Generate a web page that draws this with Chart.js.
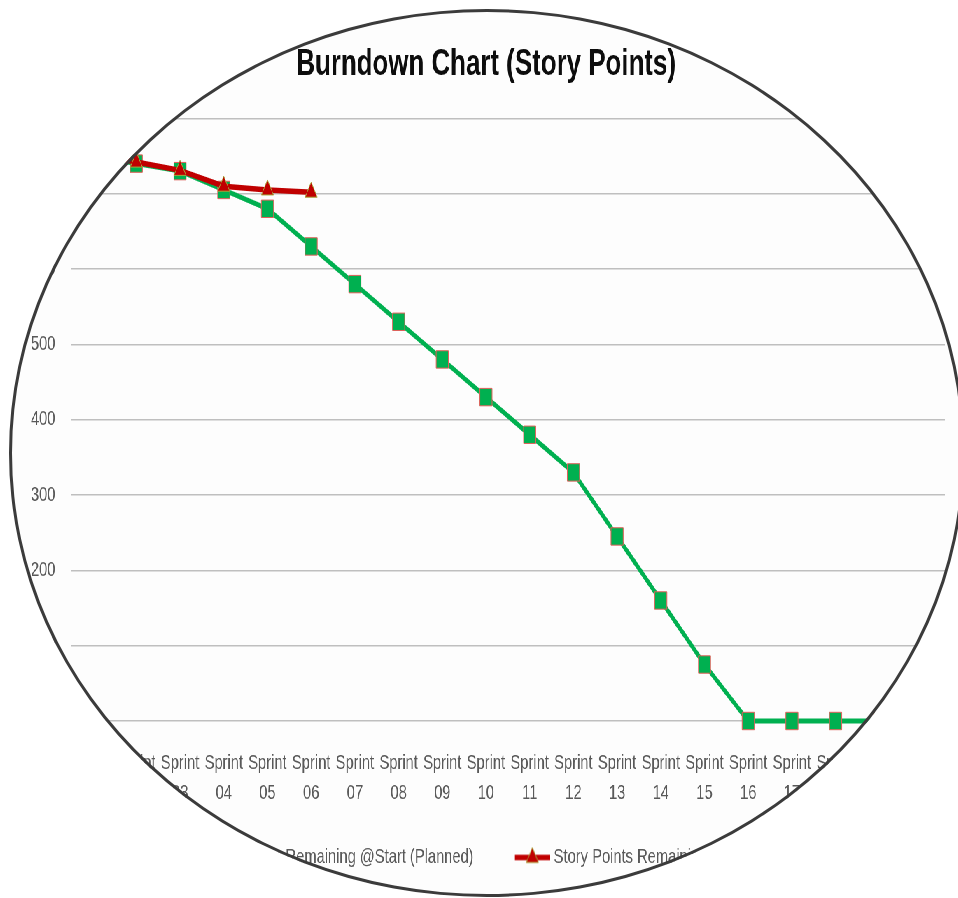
<!DOCTYPE html>
<html>
<head>
<meta charset="utf-8">
<title>Burndown Chart</title>
<script src="https://cdn.jsdelivr.net/npm/chart.js@4.4.1/dist/chart.umd.min.js"></script>
<style>
  html, body { margin: 0; padding: 0; background: #fff; overflow: hidden; }
  #frame { position: relative; width: 958px; height: 898px; overflow: hidden; background: #fff; }
  /* the chart is drawn wide and squeezed, like the stretched picture */
  #wrap { position: absolute; left: 0; top: 0; width: 1389px; height: 898px; transform: scaleX(0.7); transform-origin: 0 0; background: #fdfdfd; }
  #ring { position: absolute; left: 9px; top: 9px; width: 956px; height: 888px; box-sizing: border-box;
          border: 3px solid #3b3b3b; border-radius: 50%; box-shadow: 0 0 0 1600px #fff; pointer-events: none; }
</style>
</head>
<body>
<div id="frame">
  <div id="wrap"><canvas id="myChart"></canvas></div>
  <div id="ring"></div>
</div>
<script>
const sprints = ['Sprint 01', 'Sprint 02', 'Sprint 03', 'Sprint 04', 'Sprint 05', 'Sprint 06', 'Sprint 07',
                 'Sprint 08', 'Sprint 09', 'Sprint 10', 'Sprint 11', 'Sprint 12', 'Sprint 13', 'Sprint 14',
                 'Sprint 15', 'Sprint 16', 'Sprint 17', 'Sprint 18', 'Sprint 19', 'Sprint 20'];
const plannedRemaining = [750, 740, 730, 705, 680, 630, 580, 530, 480, 430, 380, 330, 245, 160, 75, 0, 0, 0, 0, 0];
const actualRemaining = [752, 742, 731, 710, 705, 702, null, null, null, null, null, null, null, null, null, null, null, null, null, null];
const yMin = 0;
const yMax = 800;
const yStep = 100;

const fontFam = "'Liberation Sans', Arial, sans-serif";
const green = '#00b050';
const red = '#c00000';

// legend key: a short line with the marker on it
function legendKey(lineColor, lineW, marker, fill, stroke) {
    const c = document.createElement('canvas');
    c.width = 84;
    c.height = 26;
    const g = c.getContext('2d');
    g.strokeStyle = lineColor;
    g.lineWidth = lineW;
    g.beginPath();
    g.moveTo(34, 13);
    g.lineTo(84, 13);
    g.stroke();
    g.fillStyle = fill;
    g.strokeStyle = stroke;
    g.lineWidth = 1;
    g.beginPath();
    if (marker == 'rect') {
        g.rect(59 - 8.7, 13 - 8.7, 17.4, 17.4);
    } else {
        g.moveTo(59, 13 - 10);
        g.lineTo(59 + 8.7, 13 + 5);
        g.lineTo(59 - 8.7, 13 + 5);
        g.closePath();
    }
    g.fill();
    g.stroke();
    return c;
}

const keys = [
    legendKey(green, 5, 'rect', green, '#e0605a'),
    legendKey(red, 5.5, 'triangle', red, '#a8a83c')
];

// legend sits a little left of the centre in the original
const legendShift = {
    id: 'legendShift',
    afterLayout: function(chart) {
        chart.legend.left -= 48;
        chart.legend.right -= 48;
    }
};

let ctx = document.getElementById('myChart').getContext('2d');

let myChart = new Chart(ctx, {
    type: 'line',
    data: {
        labels: sprints,
        datasets: [{
            label: 'Story Points Remaining @Start (Planned)',
            data: plannedRemaining,
            borderColor: green,
            backgroundColor: green,
            borderWidth: 5,
            pointStyle: 'rect',
            pointRadius: 12.3,
            pointBackgroundColor: green,
            pointBorderColor: '#e0605a',
            pointBorderWidth: 1,
            tension: 0,
            clip: false,
            order: 1
        }, {
            label: 'Story Points Remaining (Actual)',
            data: actualRemaining,
            borderColor: red,
            backgroundColor: red,
            borderWidth: 5.5,
            pointStyle: 'triangle',
            pointRadius: 10,
            pointBackgroundColor: red,
            pointBorderColor: '#a8a83c',
            pointBorderWidth: 1,
            tension: 0,
            spanGaps: false,
            clip: false,
            order: 0
        }]
    },
    options: {
        responsive: true,
        maintainAspectRatio: false,
        animation: false,
        layout: { padding: { left: 39, right: 39, top: 0, bottom: 20 } },
        plugins: {
            title: {
                display: true,
                text: 'Burndown Chart (Story Points)',
                color: '#0d0d0d',
                font: { family: fontFam, size: 37, weight: 'bold' },
                padding: { top: 43, bottom: 31 }
            },
            legend: {
                display: true,
                position: 'bottom',
                labels: {
                    usePointStyle: true,
                    pointStyleWidth: 74,
                    boxHeight: 21,
                    padding: 30,
                    color: '#595959',
                    font: { family: fontFam, size: 21 },
                    generateLabels: function(chart) {
                        return chart.data.datasets.map(function(ds, i) {
                            return {
                                text: ds.label,
                                pointStyle: keys[i],
                                fillStyle: ds.borderColor,
                                strokeStyle: ds.borderColor,
                                lineWidth: 0,
                                fontColor: '#595959',
                                hidden: !chart.isDatasetVisible(i),
                                datasetIndex: i
                            };
                        });
                    }
                }
            },
            tooltip: { enabled: false }
        },
        scales: {
            x: {
                offset: true,
                grid: { display: false },
                border: { display: false },
                afterFit: function(s) { s.height = 96; },
                ticks: {
                    autoSkip: false,
                    maxRotation: 0,
                    minRotation: 0,
                    padding: 19,
                    color: '#595959',
                    font: { family: fontFam, size: 21, lineHeight: 1.45 },
                    callback: function(v) { return this.getLabelForValue(v).split(' '); }
                }
            },
            y: {
                min: yMin,
                max: yMax,
                border: { display: false },
                grid: { color: '#bfbfbf', lineWidth: 1.6, drawTicks: false },
                afterFit: function(s) { s.width = 62; },
                ticks: {
                    stepSize: yStep,
                    padding: 22,
                    color: '#595959',
                    font: { family: fontFam, size: 21 }
                }
            }
        }
    },
    plugins: [legendShift]
});
</script>
</body>
</html>
